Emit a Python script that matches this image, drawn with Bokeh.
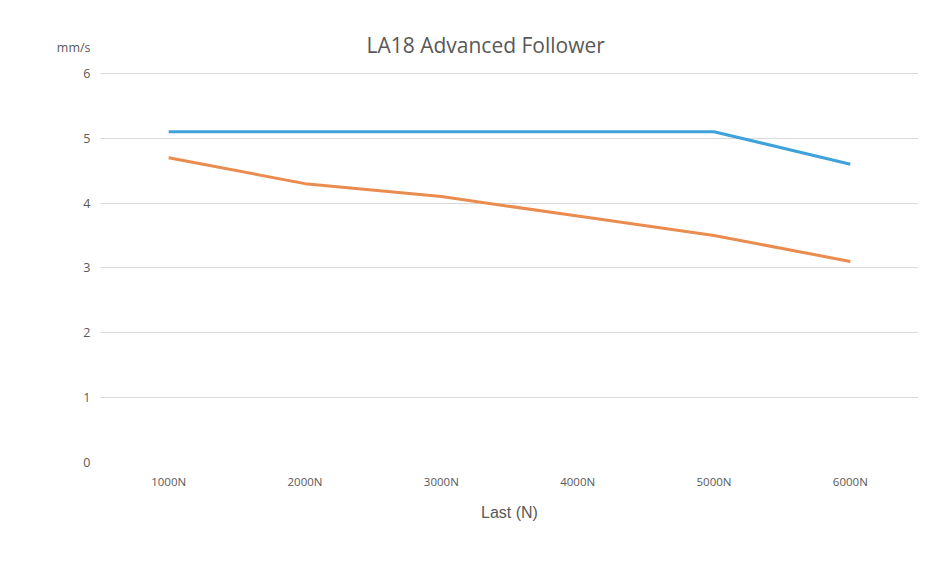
from bokeh.plotting import figure
from bokeh.models import Range1d, Label, Legend, LegendItem, FixedTicker
from bokeh.embed import file_html
from bokeh.resources import INLINE

categories = ["1000N", "2000N", "3000N", "4000N", "5000N", "6000N"]
smps006 = [5.1, 5.1, 5.1, 5.1, 5.1, 4.6]
smps001 = [4.7, 4.3, 4.1, 3.8, 3.5, 3.1]
y_ticks = [0, 1, 2, 3, 4, 5, 6]
unit_label = "mm/s"
unit_pos = 6.4

TXT = "#595959"
FONT = "Open Sans"

p = figure(x_range=categories, y_range=Range1d(0, 6.8), frame_width=818, frame_height=441,
           output_backend="svg", toolbar_location=None,
           min_border_left=100, min_border_right=8, min_border_top=21, min_border_bottom=0)
p.outline_line_color = None
p.background_fill_color = "white"
p.border_fill_color = "white"

p.xgrid.grid_line_color = None
p.ygrid.ticker = FixedTicker(ticks=y_ticks)
p.ygrid.grid_line_color = "#d9d9d9"
p.ygrid.grid_line_width = 1

p.yaxis.ticker = FixedTicker(ticks=y_ticks + [unit_pos])
p.yaxis.major_label_overrides = {unit_pos: unit_label}
p.yaxis.axis_line_color = None
p.yaxis.major_tick_line_color = None
p.yaxis.minor_tick_line_color = None
p.yaxis.major_label_text_font = FONT
p.yaxis.major_label_text_font_size = "12.5px"
p.yaxis.major_label_text_color = TXT
p.yaxis.major_label_standoff = 4

p.xaxis.axis_line_color = None
p.xaxis.major_tick_line_color = None
p.xaxis.major_label_text_font = FONT
p.xaxis.major_label_text_font_size = "11.5px"
p.xaxis.major_label_text_color = TXT
p.xaxis.major_label_standoff = 5
p.xaxis.axis_label = "Last (N)"
p.xaxis.axis_label_text_font = "Liberation Sans"
p.xaxis.axis_label_text_font_size = "16px"
p.xaxis.axis_label_text_font_style = "normal"
p.xaxis.axis_label_text_color = TXT
p.xaxis.axis_label_standoff = 12

r1 = p.line(categories, smps006, line_color="#3fa2da", line_width=3)
r2 = p.line(categories, smps001, line_color="#ea8c4f", line_width=3)

p.add_layout(Label(x=2.825, y=6.43, text="LA18 Advanced Follower", text_align="center",
                   text_baseline="middle", text_font=FONT, text_font_size="21px",
                   text_color=TXT))

legend = Legend(items=[LegendItem(label="SMPS006", renderers=[r1]),
                       LegendItem(label="SMPS001", renderers=[r2])],
                orientation="horizontal", location="center", nrows=1,
                glyph_width=33, glyph_height=14, label_standoff=3, spacing=14,
                padding=0, margin=4, border_line_color=None,
                background_fill_alpha=0,
                label_text_font=FONT, label_text_font_size="12px",
                label_text_color=TXT)
p.add_layout(legend, "below")

open("out.html", "w").write(file_html(p, INLINE))
